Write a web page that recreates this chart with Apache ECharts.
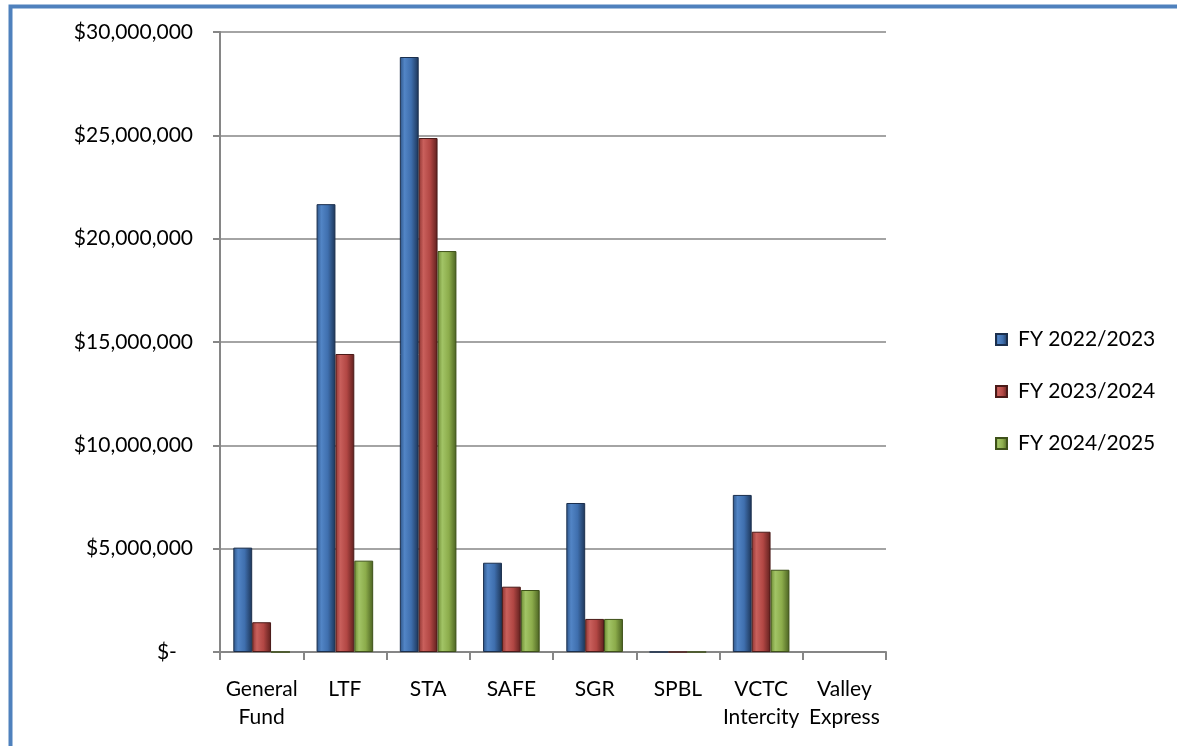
<!DOCTYPE html>
<html>
<head>
<meta charset="utf-8">
<title>Funding by source</title>
<script src="https://cdn.jsdelivr.net/npm/echarts@6/dist/echarts.min.js"></script>
<style>
  html, body { margin: 0; padding: 0; background: #fff; }
  #chart { width: 1177px; height: 746px; }
</style>
</head>
<body>
<div id="chart"></div>
<script>
// values (dollars); Valley Express has no bars at all
const categories = ['General\nFund', 'LTF', 'STA', 'SAFE', 'SGR', 'SPBL', 'VCTC\nIntercity', 'Valley\nExpress']
const seriesNames = ['FY 2022/2023', 'FY 2023/2024', 'FY 2024/2025']
const fy2223 = [5050000, 21670000, 28790000, 4320000, 7210000, 0, 7600000, null]
const fy2324 = [1440000, 14420000, 24870000, 3160000, 1600000, 0, 5820000, null]
const fy2425 = [0, 4420000, 19400000, 3000000, 1600000, 0, 3980000, null]
const yTicks = { min: 0, max: 30000000, interval: 5000000 }

const font = 'Lato, "Open Sans", sans-serif'

// bevel-ish look: darker edges, lighter center
function barFill (dark, mid, light, edge) {
  return new echarts.graphic.LinearGradient(0, 0, 1, 0, [
    { offset: 0, color: dark },
    { offset: 0.25, color: light },
    { offset: 0.6, color: mid },
    { offset: 1, color: edge }
  ])
}

const fills = [
  barFill('#2d5487', '#3f6fae', '#5285c6', '#1d3557'),
  barFill('#8e3431', '#b24744', '#c9605c', '#5e1f1d'),
  barFill('#6c8a32', '#8cac4b', '#a2c466', '#4a6121')
]
const borders = ['#1b2f4d', '#4a1a18', '#3e5119']
const values = [fy2223, fy2324, fy2425]

const chart = echarts.init(document.getElementById('chart'))

const option = {
  animation: false,
  textStyle: { fontFamily: font, color: '#000' },
  graphic: [{
    type: 'rect',
    shape: { x: 10.5, y: 6.5, width: 1300, height: 900 },
    style: { fill: 'none', stroke: '#4f81bd', lineWidth: 4 },
    z: 100
  }],
  grid: { left: 220, top: 32, right: 291, bottom: 94, containLabel: false },
  legend: {
    orient: 'vertical',
    left: 990,
    top: 324,
    itemWidth: 11,
    itemHeight: 11,
    itemGap: 31,
    icon: 'rect',
    textStyle: { fontSize: 21, fontFamily: font, color: '#000', padding: [0, 0, 0, 6] },
    data: seriesNames
  },
  xAxis: {
    type: 'category',
    data: categories,
    axisLine: { lineStyle: { color: '#868686', width: 2 } },
    axisTick: { show: true, length: 8, lineStyle: { color: '#868686', width: 2 } },
    axisLabel: { interval: 0, fontSize: 21, color: '#000', margin: 23, lineHeight: 28, hideOverlap: false }
  },
  yAxis: {
    type: 'value',
    min: yTicks.min,
    max: yTicks.max,
    interval: yTicks.interval,
    axisLine: { show: true, lineStyle: { color: '#868686', width: 2 } },
    axisTick: { show: true, length: 7, lineStyle: { color: '#868686', width: 2 } },
    splitLine: { lineStyle: { color: '#868686', width: 1.5 } },
    axisLabel: {
      fontSize: 21,
      color: '#000',
      margin: 27,
      formatter: function (v) {
        if (v === 0) return '$-   '
        return '$' + v.toLocaleString('en-US')
      }
    }
  },
  series: seriesNames.map(function (name, i) {
    return {
      name: name,
      type: 'bar',
      data: values[i],
      barGap: '0%',
      barCategoryGap: '32%',
      itemStyle: { color: fills[i], borderColor: borders[i], borderWidth: 1 }
    }
  })
}

chart.setOption(option)
</script>
</body>
</html>
